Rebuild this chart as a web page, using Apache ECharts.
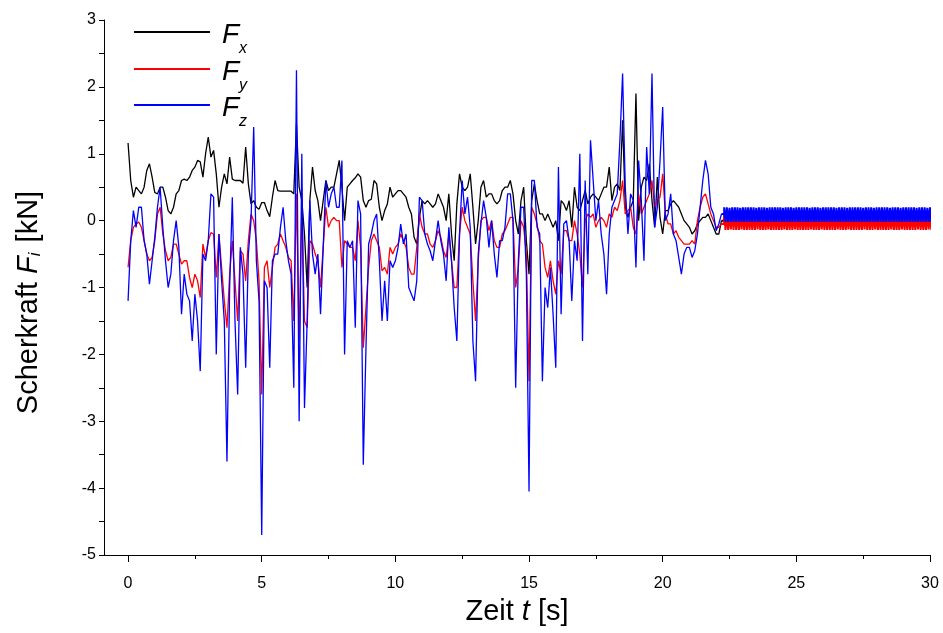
<!DOCTYPE html>
<html lang="de">
<head>
<meta charset="utf-8">
<title>Scherkraft</title>
<script src="https://cdn.jsdelivr.net/npm/echarts@6/dist/echarts.min.js"></script>
<style>
  html, body { margin: 0; padding: 0; background: #fff; }
  #chart { width: 943px; height: 633px; }
</style>
</head>
<body>
<div id="chart"></div>
<script>
// Abtastung 0.1 s von 0 bis 22.2 s
var step = 0.1;
var fx = [
  1.16, 0.6, 0.35, 0.5, 0.45, 0.4, 0.5, 0.75, 0.85, 0.65,
  0.42, 0.4, 0.5, 0.5, 0.35, 0.15, 0.1, 0.2, 0.4, 0.45,
  0.6, 0.62, 0.6, 0.65, 0.75, 0.8, 0.9, 0.88, 0.65, 1.0,
  1.25, 0.95, 1.05, 0.7, 0.2, 0.5, 0.7, 0.55, 0.95, 0.62,
  0.6, 0.6, 0.6, 0.56, 1.1, 0.55, 0.25, 0.3, 0.2, 0.17,
  0.27, 0.27, 0.15, 0.06, 0.35, 0.6, 0.45, 0.44, 0.44, 0.44,
  0.44, 0.44, 0.4, 1.45, 0.5, 0.3, -0.2, -1.0, 0.3, 0.8,
  0.45, 0.3, 0.0, 0.3, 0.6, 0.45, 0.5, 0.5, 0.7, 0.9,
  0.5, 0.0, 0.5, 0.55, 0.6, 0.64, 0.7, 0.65, 0.3, 0.2,
  0.3, 0.32, 0.6, 0.55, 0.2, 0.0, 0.15, 0.25, 0.5, 0.35,
  0.4, 0.45, 0.45, 0.4, 0.35, 0.2, 0.1, -0.25, -0.35, 0.05,
  0.3, 0.25, 0.3, 0.25, 0.2, 0.25, 0.4, 0.3, 0.2, 0.0,
  0.4, -0.2, -0.6, 0.25, 0.7, 0.5, 0.45, 0.5, 0.7, 0.2,
  -0.35, 0.0, 0.5, 0.6, 0.35, 0.4, 0.4, 0.3, 0.25, 0.3,
  0.45, 0.5, 0.5, 0.6, 0.4, 0.0, -0.2, 0.3, 0.5, -0.3,
  -0.8, 0.3, 0.55, 0.3, 0.1, 0.1, 0.0, 0.1, 0.0, -0.1,
  0.0, -0.3, 0.3, 0.25, 0.15, 0.3, -0.1, 0.5, 0.2, 0.15,
  0.3, 0.45, 0.25, 0.35, 0.4, 0.35, 0.3, 0.4, 0.5, 0.5,
  0.8, 0.3, 0.5, 0.55, 0.45, 1.5, 0.2, 0.05, 0.2, 0.3,
  1.9, 0.0, 0.5, 0.65, 0.6, 0.85, 0.3, -0.1, 0.65, 0.05,
  -0.2, 0.15, 0.15, 0.25, 0.3, 0.25, 0.2, 0.1, 0.0, -0.05,
  -0.1, -0.2, -0.15, -0.05, 0.0, 0.05, 0.05, 0.1, 0.0, -0.1,
  -0.2, -0.2, 0.0
];
var fy = [
  -0.7, -0.3, -0.1, -0.05, -0.02, -0.1, -0.3, -0.5, -0.6, -0.55,
  -0.3, 0.1, 0.2, -0.2, -0.45, -0.6, -0.55, -0.35, -0.35, -0.5,
  -0.65, -0.6, -0.6, -0.85, -1.0, -0.8, -0.9, -1.15, -0.35, -0.55,
  -0.3, -0.18, -0.2, -0.85, -0.2, -0.7, -1.2, -1.6, -0.8, -0.3,
  -0.9, -1.5, -0.45, -0.5, -0.9, -0.3, 0.1, 0.0, -0.3, -0.9,
  -2.6, -0.7, -0.6, -1.0, -0.7, -0.4, -0.35, -0.2, -0.3, -0.4,
  -0.55, -0.6, -1.5, 0.4, -1.8, 0.2, -1.5, -1.6, -0.3, -0.35,
  -0.5, -0.6, -1.0, -0.4, 0.2, -0.1, 0.0, 0.05, 0.0, 0.0,
  -0.7, -0.3, -0.35, -0.4, -0.4, -0.6, 0.0, -0.4, -1.9, -1.3,
  -0.7, -0.3, -0.2, -0.3, -0.4, -0.75, -0.7, -0.8, -0.4, -0.5,
  -0.4, -0.35, -0.2, -0.3, -0.4, -0.7, -0.8, -0.8, -0.4, 0.1,
  -0.1, -0.2, -0.2, -0.35, -0.4, -0.3, -0.15, -0.25, -0.45, -0.55,
  -0.2, -0.6, -1.0, -1.0, -0.2, 0.2, 0.0, -0.1, -0.2, -0.9,
  -1.5, -0.6, 0.0, 0.05, 0.05, -0.15, 0.0, -0.3, -0.4, -0.4,
  -0.2, -0.15, -0.05, 0.05, 0.05, -1.0, -0.7, 0.0, -0.1, -0.5,
  -2.4, 0.2, 0.1, -0.05, -0.3, -0.35, -0.7, -0.85, -0.6, -0.9,
  -1.1, -0.6, -0.8, -0.15, -0.15, -0.3, -0.3, 0.0, -0.2, -0.5,
  -1.0, 0.0, 0.1, 0.05, 0.1, -0.1, 0.0, 0.05, 0.0, -0.1,
  0.1, 0.05, 0.2, 0.15, 0.3, 0.6, 0.1, 0.15, 0.2, -0.1,
  -0.2, 0.4, 0.1, 0.2, 0.3, 0.4, 0.6, 0.2, 0.3, 0.35,
  0.7, 0.1, -0.05, -0.05, -0.2, -0.15, -0.25, -0.3, -0.35, -0.35,
  -0.35, -0.3, -0.35, 0.0, 0.2, 0.35, 0.4, 0.25, 0.1, 0.0,
  -0.1, -0.1, -0.05
];
var fz = [
  -1.2, -0.3, 0.15, -0.1, 0.2, 0.2, -0.3, -0.5, -0.95, -0.6,
  -0.25, 0.2, 0.5, -0.1, -0.6, -1.0, -0.8, -0.3, 0.0, -0.4,
  -1.4, -0.8, -1.1, -1.2, -1.8, -1.1, -1.5, -2.25, -0.5, -0.6,
  -0.3, 0.4, 0.35, -2.0, -0.2, -0.9, -1.5, -3.6, -1.0, 0.35,
  -1.5, -2.6, -0.4, -0.8, -2.2, -0.5, 0.0, 1.4, -0.6, -1.2,
  -4.7, -0.9, -1.0, -2.2, -0.6, -0.5, -0.5, -0.1, 0.2, -0.3,
  -0.6, -0.8, -2.5, 2.25, -3.0, 1.0, -2.8, -1.5, 0.3, -0.5,
  -0.8, -0.5, -1.4, -0.4, 0.6, 0.2, 0.4, 0.5, 0.2, 0.2,
  0.9, -2.0, -0.3, -0.4, -0.3, -1.6, 0.3, 0.1, -3.65, -1.9,
  -0.35, -0.2, 0.0, 0.1, -0.6, -1.5, -0.9, -1.5, -0.6, -0.7,
  -0.6, -0.4, -0.05, -0.35, -0.2, -1.0, -1.1, -1.2, -0.9, 0.35,
  0.3, -0.2, -0.35, -0.45, -0.6, -0.3, 0.0, -0.3, -0.5, -0.9,
  -0.1, -0.6, -1.3, -1.8, -0.2, 0.6, 0.1, 0.35, -0.1, -1.8,
  -2.4, -0.5, -0.05, 0.3, 0.05, -0.4, 0.0, -0.5, -0.85, -0.3,
  -0.3, -0.1, 0.4, 0.4, 0.0, -2.5, -0.6, 0.2, 0.2, -0.8,
  -4.05, 0.6, 0.6, -0.1, -0.2, -2.4, -1.0, -1.3, -0.7, -1.4,
  -2.2, 0.8, -1.4, -0.05, 0.0, -0.3, -1.2, -0.3, -0.6, 1.0,
  -1.8, 0.6, -0.8, 1.2, 0.6, 0.0, 0.3, -0.2, -0.5, -1.1,
  -0.2, 0.2, 0.3, 0.4, 1.2, 2.2, 0.5, -0.2, 0.4, 0.3,
  -0.7, 0.9, 0.3, -0.6, 1.1, 0.4, 2.2, -0.1, 0.2, 0.9,
  1.7, 0.0, 0.1, 0.4, -0.2, -0.3, -0.55, -0.8, -0.5, -0.4,
  -0.4, -0.55, -0.45, -0.2, 0.2, 0.6, 0.9, 0.7, 0.2, 0.1,
  -0.15, -0.05, 0.1
];

// Ausschwingen ab 22.3 s, feiner abgetastet (0.05 s)
var tailStart = 22.3;
var tailStep = 0.05;
var fxTail = [
  0.12, 0.0, 0.12, 0.0, 0.11, 0.0, 0.12, 0.01, 0.12, 0.0, 0.12, 0.0, 0.11, 0.0, 0.12, 0.0, 0.12, 0.0, 0.12, 0.0,
  0.12, 0.0, 0.12, 0.0, 0.11, 0.0, 0.12, 0.01, 0.12, 0.0, 0.12, 0.0, 0.11, 0.0, 0.12, 0.0, 0.12, 0.0, 0.12, 0.0,
  0.12, 0.0, 0.12, 0.0, 0.11, 0.0, 0.12, 0.01, 0.12, 0.0, 0.12, 0.0, 0.11, 0.0, 0.12, 0.0, 0.12, 0.0, 0.12, 0.0,
  0.12, 0.0, 0.12, 0.0, 0.11, 0.0, 0.12, 0.01, 0.12, 0.0, 0.12, 0.0, 0.11, 0.0, 0.12, 0.0, 0.12, 0.0, 0.12, 0.0,
  0.12, 0.0, 0.12, 0.0, 0.11, 0.0, 0.12, 0.01, 0.12, 0.0, 0.12, 0.0, 0.11, 0.0, 0.12, 0.0, 0.12, 0.0, 0.12, 0.0,
  0.12, 0.0, 0.12, 0.0, 0.11, 0.0, 0.12, 0.01, 0.12, 0.0, 0.12, 0.0, 0.11, 0.0, 0.12, 0.0, 0.12, 0.0, 0.12, 0.0,
  0.12, 0.0, 0.12, 0.0, 0.11, 0.0, 0.12, 0.01, 0.12, 0.0, 0.12, 0.0, 0.11, 0.0, 0.12, 0.0, 0.12, 0.0, 0.12, 0.0,
  0.12, 0.0, 0.12, 0.0, 0.11, 0.0, 0.12, 0.01, 0.12, 0.0, 0.12, 0.0, 0.11, 0.0, 0.12, 0.0, 0.12, 0.0, 0.12, 0.0
];
var fyTail = [
  0.1, -0.14, 0.1, -0.14, 0.1, -0.13, 0.1, -0.14, 0.1, -0.14, 0.1, -0.14, 0.1, -0.13, 0.1, -0.14, 0.1, -0.14, 0.1, -0.14,
  0.1, -0.14, 0.1, -0.14, 0.1, -0.13, 0.1, -0.14, 0.1, -0.14, 0.1, -0.14, 0.1, -0.13, 0.1, -0.14, 0.1, -0.14, 0.1, -0.14,
  0.1, -0.14, 0.1, -0.14, 0.1, -0.13, 0.1, -0.14, 0.1, -0.14, 0.1, -0.14, 0.1, -0.13, 0.1, -0.14, 0.1, -0.14, 0.1, -0.14,
  0.1, -0.14, 0.1, -0.14, 0.1, -0.13, 0.1, -0.14, 0.1, -0.14, 0.1, -0.14, 0.1, -0.13, 0.1, -0.14, 0.1, -0.14, 0.1, -0.14,
  0.1, -0.14, 0.1, -0.14, 0.1, -0.13, 0.1, -0.14, 0.1, -0.14, 0.1, -0.14, 0.1, -0.13, 0.1, -0.14, 0.1, -0.14, 0.1, -0.14,
  0.1, -0.14, 0.1, -0.14, 0.1, -0.13, 0.1, -0.14, 0.1, -0.14, 0.1, -0.14, 0.1, -0.13, 0.1, -0.14, 0.1, -0.14, 0.1, -0.14,
  0.1, -0.14, 0.1, -0.14, 0.1, -0.13, 0.1, -0.14, 0.1, -0.14, 0.1, -0.14, 0.1, -0.13, 0.1, -0.14, 0.1, -0.14, 0.1, -0.14,
  0.1, -0.14, 0.1, -0.14, 0.1, -0.13, 0.1, -0.14, 0.1, -0.14, 0.1, -0.14, 0.1, -0.13, 0.1, -0.14, 0.1, -0.14, 0.1, -0.14
];
var fzTail = [
  0.2, -0.02, 0.2, -0.02, 0.19, -0.02, 0.2, -0.02, 0.2, -0.02, 0.2, -0.02, 0.19, -0.02, 0.2, -0.02, 0.2, -0.02, 0.2, -0.02,
  0.2, -0.02, 0.2, -0.02, 0.19, -0.02, 0.2, -0.02, 0.2, -0.02, 0.2, -0.02, 0.19, -0.02, 0.2, -0.02, 0.2, -0.02, 0.2, -0.02,
  0.2, -0.02, 0.2, -0.02, 0.19, -0.02, 0.2, -0.02, 0.2, -0.02, 0.2, -0.02, 0.19, -0.02, 0.2, -0.02, 0.2, -0.02, 0.2, -0.02,
  0.2, -0.02, 0.2, -0.02, 0.19, -0.02, 0.2, -0.02, 0.2, -0.02, 0.2, -0.02, 0.19, -0.02, 0.2, -0.02, 0.2, -0.02, 0.2, -0.02,
  0.2, -0.02, 0.2, -0.02, 0.19, -0.02, 0.2, -0.02, 0.2, -0.02, 0.2, -0.02, 0.19, -0.02, 0.2, -0.02, 0.2, -0.02, 0.2, -0.02,
  0.2, -0.02, 0.2, -0.02, 0.19, -0.02, 0.2, -0.02, 0.2, -0.02, 0.2, -0.02, 0.19, -0.02, 0.2, -0.02, 0.2, -0.02, 0.2, -0.02,
  0.2, -0.02, 0.2, -0.02, 0.19, -0.02, 0.2, -0.02, 0.2, -0.02, 0.2, -0.02, 0.19, -0.02, 0.2, -0.02, 0.2, -0.02, 0.2, -0.02,
  0.2, -0.02, 0.2, -0.02, 0.19, -0.02, 0.2, -0.02, 0.2, -0.02, 0.2, -0.02, 0.19, -0.02, 0.2, -0.02, 0.2, -0.02, 0.2, -0.02
];

var xTicks = [0, 5, 10, 15, 20, 25, 30];
var xMinorTicks = [2.5, 7.5, 12.5, 17.5, 22.5, 27.5];

var FONT = "'Liberation Sans', Arial, sans-serif";

function mainPairs(vals) {
  var out = [];
  for (var i = 0; i < vals.length; i++) out.push([+(i * step).toFixed(2), vals[i]]);
  return out;
}
// Ausschwingteil beginnt am letzten Punkt des Hauptteils
function tailPairs(vals, mainVals) {
  var last = mainVals.length - 1;
  var out = [[+(last * step).toFixed(2), mainVals[last]]];
  for (var j = 0; j < vals.length; j++) out.push([+(tailStart + j * tailStep).toFixed(2), vals[j]]);
  return out;
}

var chart = echarts.init(document.getElementById('chart'), null, {renderer: 'canvas'});

var subLabels = {Fx: 'x', Fy: 'y', Fz: 'z'};
function legendAt(name, top) {
  return {
    data: [name],
    left: 134,
    top: top,
    padding: 0,
    icon: 'rect',
    itemWidth: 76,
    itemHeight: 2,
    selectedMode: false,
    formatter: function (n) { return '{f|F}{s|' + subLabels[n] + '}'; },
    textStyle: {
      rich: {
        f: {fontSize: 28, fontStyle: 'italic', fontFamily: FONT, color: '#000', padding: [6, 0, 0, 7]},
        s: {fontSize: 16, fontStyle: 'italic', fontFamily: FONT, color: '#000', padding: [34, 0, 0, 0]}
      }
    }
  };
}

function lineSeries(name, data, color, width, isStep) {
  return {
    name: name, type: 'line', xAxisIndex: 0, showSymbol: false, symbol: 'none',
    step: isStep ? 'end' : false,
    data: data, color: color,
    lineStyle: {width: width, color: color}
  };
}

var option = {
  animation: false,
  backgroundColor: '#fff',
  grid: {left: 104, right: 13, top: 20, bottom: 78, containLabel: false},
  legend: [legendAt('Fx', 21), legendAt('Fy', 58), legendAt('Fz', 94)],
  xAxis: [{
    type: 'value',
    min: -0.9,
    max: 30,
    position: 'bottom',
    axisLine: {show: true, onZero: false, lineStyle: {color: '#000', width: 1}},
    axisTick: {show: true, length: 7, customValues: xTicks, lineStyle: {color: '#000'}},
    axisLabel: {customValues: xTicks, color: '#000', fontSize: 16, fontFamily: FONT, margin: 21},
    splitLine: {show: false},
    name: '{n|Zeit }{i|t}{n| [s]}',
    nameLocation: 'middle',
    nameGap: 42,
    nameTextStyle: {
      rich: {
        n: {fontSize: 29, fontFamily: FONT, color: '#000'},
        i: {fontSize: 29, fontFamily: FONT, fontStyle: 'italic', color: '#000'}
      }
    }
  }, {
    type: 'value',
    min: -0.9,
    max: 30,
    position: 'bottom',
    axisLine: {show: false, onZero: false},
    axisTick: {show: true, length: 4, customValues: xMinorTicks, lineStyle: {color: '#000'}},
    axisLabel: {show: false},
    splitLine: {show: false}
  }],
  yAxis: {
    type: 'value',
    min: -5,
    max: 3,
    interval: 1,
    axisLine: {show: true, onZero: false, lineStyle: {color: '#000', width: 1}},
    axisTick: {show: true, length: 5, lineStyle: {color: '#000'}},
    minorTick: {show: true, splitNumber: 2, length: 5, lineStyle: {color: '#000'}},
    axisLabel: {color: '#000', fontSize: 16, fontFamily: FONT, margin: 8},
    splitLine: {show: false},
    minorSplitLine: {show: false},
    name: '{n|Scherkraft }{i|F}{s|i}{n| [kN]}',
    nameLocation: 'middle',
    nameGap: 60,
    nameTextStyle: {
      padding: [0, 30, 0, 0],
      rich: {
        n: {fontSize: 29, fontFamily: FONT, color: '#000'},
        i: {fontSize: 29, fontFamily: FONT, fontStyle: 'italic', color: '#000'},
        s: {fontSize: 17, fontFamily: FONT, fontStyle: 'italic', color: '#000', padding: [14, 2, 0, 0]}
      }
    }
  },
  series: [
    lineSeries('Fx', mainPairs(fx), '#000000', 1.3, false),
    lineSeries('Fy', mainPairs(fy), '#ff0000', 1.3, false),
    lineSeries('Fz', mainPairs(fz), '#0000ff', 1.3, false),
    lineSeries('Fx', tailPairs(fxTail, fx), '#000000', 2, true),
    lineSeries('Fy', tailPairs(fyTail, fy), '#ff0000', 2, true),
    lineSeries('Fz', tailPairs(fzTail, fz), '#0000ff', 2, true)
  ]
};

chart.setOption(option);
</script>
</body>
</html>
